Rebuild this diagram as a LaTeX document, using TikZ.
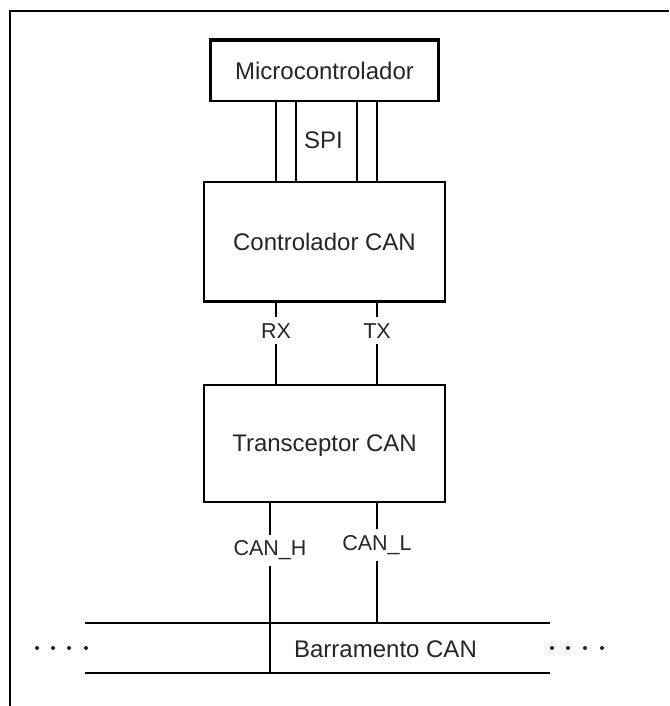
\documentclass[tikz,border=0pt]{standalone}
\usepackage{fontspec}
\setmainfont{Liberation Sans}
\usetikzlibrary{calc}
\definecolor{ink}{HTML}{262626}
\begin{document}
\begin{tikzpicture}[x=1pt,y=-1pt,
  every node/.style={text=ink},
  block/.style={draw=black, line width=2.2pt, inner sep=0pt, text depth=0pt,
                font=\fontsize{24}{28}\selectfont},
  wire/.style={draw=black, line width=2.2pt},
  tag/.style={fill=white, inner xsep=4pt, inner ysep=6pt,
              font=\fontsize{21.5}{25}\selectfont},
  big/.style={inner sep=0pt, text depth=0pt, font=\fontsize{24}{28}\selectfont}]
\useasboundingbox (0,0) rectangle (669,706);
\fill[white] (0,0) rectangle (669,706);

% outer frame (top and left edges)
\draw[line width=2.8pt] (669,11) -- (10,11) -- (10,706);

% blocks
\node[block, minimum width=228pt, minimum height=60pt] (mcu) at (324.5,71) {Microcontrolador};
\draw[line width=3.6pt] (mcu.north west) -- (mcu.north east);
\node[block, minimum width=241pt, minimum height=119.5pt] (ctrl) at (324.5,241.75) {Controlador CAN};
\node[block, minimum width=241pt, minimum height=117pt] (trans) at (324.5,443.5) {Transceptor CAN};

% SPI lines
\foreach \dx in {-48.5,-28.5,32.5,52.5}
  \draw[wire] ([xshift=\dx pt]mcu.south) -- ([xshift=\dx pt]ctrl.north);
\node[big] (spi) at (323.5,140.5) {SPI};

% RX / TX
\draw[wire] ([xshift=-48.5pt]ctrl.south) -- node[tag, pos=0.347] (rx) {RX} ([xshift=-48.5pt]trans.north);
\draw[wire] ([xshift=52.5pt]ctrl.south) -- node[tag, pos=0.347] (tx) {TX} ([xshift=52.5pt]trans.north);

% bus
\node[minimum width=465pt, minimum height=49.7pt, inner sep=0pt] (bus) at (317.5,647.85) {};
\draw[wire] (bus.north west) -- (bus.north east);
\draw[wire] (bus.south west) -- (bus.south east);
\node[big] (buslbl) at (385.5,648.7) {Barramento CAN};
\foreach \x in {37,53,69,86,552,568,585,602}
  \fill[ink] (\x,648) circle (2pt);

% CAN_H / CAN_L
\coordinate (hx) at ([xshift=-54.5pt]trans.south);
\coordinate (lx) at ([xshift=52.5pt]trans.south);
\draw[wire] (hx) -- node[tag, pos=0.278] (canh) {CAN\_H} (hx |- bus.south);
\draw[wire] (lx) -- node[tag, pos=0.351] (canl) {CAN\_L} (lx |- bus.north);
\end{tikzpicture}
\end{document}
